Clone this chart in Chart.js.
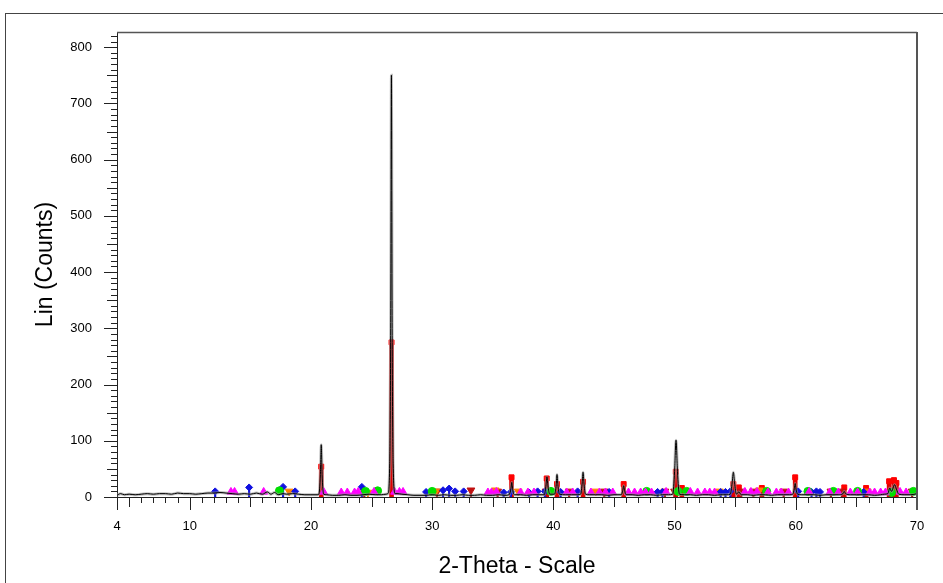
<!DOCTYPE html>
<html>
<head>
<meta charset="utf-8">
<title>XRD pattern</title>
<script src="https://cdn.jsdelivr.net/npm/chart.js@4.4.0/dist/chart.umd.min.js"></script>
<style>
  html, body { margin: 0; padding: 0; background: #fff; }
  #wrap { width: 943px; height: 583px; }
</style>
</head>
<body>
<div id="wrap"><canvas id="xrd" width="943" height="583"></canvas></div>
<script>
// measured pattern (2-theta, counts)
const patternX = [4, 4.3, 4.6, 5, 5.5, 6, 6.5, 7, 7.5, 8, 8.5, 9, 9.5, 10, 10.5, 11, 11.5, 12, 12.5, 13, 13.5, 14, 14.5, 15, 15.5, 16, 16.4, 16.7, 17, 17.3, 17.7, 18, 18.5, 19, 19.5, 20, 20.5,
  20.65, 20.78, 20.85, 20.92, 21.05, 21.3, 21.8, 22.3, 22.8, 23.3, 23.8, 24.3, 24.8, 25.3, 25.8, 26.2,
  26.35, 26.5, 26.58, 26.64, 26.7, 26.78, 26.95, 27.1, 27.5, 28, 28.5, 29, 29.5, 30, 30.5, 31, 31.5, 32, 32.5, 33, 33.5, 34, 34.5, 35, 35.5, 36,
  36.35, 36.5, 36.57, 36.65, 36.8, 37.3, 37.8, 38.3, 38.8, 39.25, 39.4, 39.47, 39.55, 39.7, 40.1, 40.24, 40.3, 40.37, 40.5, 41, 41.5, 42, 42.25, 42.38, 42.45, 42.52, 42.65,
  43, 43.5, 44, 44.5, 45, 45.6, 45.73, 45.8, 45.87, 46, 46.5, 47, 47.5, 48, 48.5, 49, 49.5, 49.85, 50, 50.12, 50.24, 50.4, 50.8, 51.3, 51.8, 52.3, 52.8, 53.3, 53.8, 54.3,
  54.6, 54.75, 54.85, 54.95, 55.1, 55.3, 55.5, 56, 56.5, 57, 57.5, 58, 58.5, 59, 59.5, 59.75, 59.88, 59.95, 60.02, 60.15, 60.5, 61, 61.5, 62, 62.5, 63, 63.5, 63.9, 64, 64.1,
  64.5, 65, 65.5, 66, 66.5, 67, 67.3, 67.6, 67.75, 67.9, 68.15, 68.3, 68.5, 69, 69.5, 70];
const patternY = [3, 6, 4, 5, 4, 5, 6, 5, 6, 6, 5, 7, 6, 6, 5, 6, 7, 7, 8, 7, 6, 5, 6, 5, 7, 5, 9, 5, 8, 4, 6, 5, 6, 5, 4, 4, 4,
  5, 40, 93, 40, 5, 4, 3, 3, 4, 3, 3, 4, 5, 4, 4, 5,
  6, 60, 300, 750, 300, 60, 6, 6, 5, 4, 3, 3, 3, 4, 3, 4, 3, 3, 4, 3, 3, 4, 3, 3, 4, 3,
  4, 15, 26, 12, 4, 4, 3, 4, 4, 4, 22, 36, 20, 5, 5, 22, 40, 22, 5, 4, 4, 4, 5, 25, 44, 25, 5,
  4, 4, 4, 3, 4, 4, 12, 20, 12, 4, 4, 3, 4, 4, 3, 4, 4, 5, 45, 101, 45, 5, 4, 4, 3, 4, 4, 3, 4, 4,
  5, 25, 44, 25, 5, 9, 4, 4, 3, 4, 4, 3, 4, 4, 4, 5, 15, 24, 14, 5, 4, 4, 4, 3, 4, 4, 4, 6, 10, 6,
  4, 4, 4, 4, 3, 4, 5, 6, 16, 10, 22, 14, 5, 4, 4, 6];

// reference phase sticks (2-theta, relative height)
const quartzPos = [20.85, 26.65, 36.55, 39.45, 40.3, 42.45, 45.8, 50.1, 50.6, 54.85, 55.3, 57.2, 59.95, 64.0, 65.8, 67.7, 68.1, 68.3];
const quartzInt = [54, 275, 35, 33, 23, 27, 23, 45, 16, 23, 17, 16, 35, 17, 16, 28, 30, 25];

const bluePos = [12.1, 14.9, 17.7, 18.7, 24.2, 29.5, 30.9, 31.4, 31.9, 32.6, 35.9, 36.5, 38.0, 38.7, 39.3, 40.6, 42.0, 44.6, 48.6, 49.0, 53.8, 54.2, 54.6, 60.2, 61.3, 61.7, 62.0, 65.6];
const blueInt = [10, 17, 18, 10, 18, 9, 12, 15, 10, 10, 8, 9, 8, 10, 10, 9, 10, 9, 9, 9, 9, 9, 10, 10, 9, 10, 9, 9];

const magentaPos = [13.4, 13.7, 16.1, 21.05, 22.5, 23.0, 23.6, 23.9, 25.2, 26.9, 27.3, 27.6, 34.6, 34.9, 35.3, 37.3, 37.9, 38.4, 41.1, 41.6, 43.1, 43.8, 44.3, 44.9, 46.2, 46.7, 47.2, 47.6, 48.1, 49.3,
  51.3, 51.9, 52.5, 52.9, 53.3, 55.8, 56.3, 56.8, 57.7, 58.4, 58.8, 59.4, 61.1, 62.8, 63.5, 64.5, 65.1, 66.1, 66.5, 67.0, 67.4, 68.6, 69.1];
const magentaInt = [9, 9, 9, 9, 8, 8, 8, 9, 9, 9, 9, 9, 8, 8, 9, 8, 8, 8, 8, 8, 8, 8, 8, 8, 8, 8, 8, 8, 8, 9,
  9, 8, 8, 8, 8, 9, 9, 9, 8, 8, 8, 8, 9, 8, 8, 8, 8, 8, 8, 8, 8, 9, 8];

const greenPos = [17.4, 24.5, 25.5, 30.0, 39.8, 47.7, 50.3, 51.0, 57.6, 61.0, 63.1, 65.1, 67.9, 69.7];
const greenInt = [11, 10, 11, 10, 10, 10, 10, 10, 10, 10, 10, 10, 8, 10];

const orangePos = [18.2, 24.7, 30.3, 35.2, 37.1, 43.5, 53.7, 57.0, 65.9];
const orangeInt = [10, 8, 10, 12, 10, 10, 10, 12, 10];

const darkRedPos = [24.4, 30.4, 33.2, 35.4, 39.4, 41.3, 44.2, 49.2, 50.0, 55.5, 56.5, 57.3, 59.0, 62.9, 63.8, 69.6];
const darkRedInt = [10, 10, 12, 10, 10, 10, 10, 10, 10, 10, 10, 10, 10, 10, 10, 10];

const xTickLabels = [4, 10, 20, 30, 40, 50, 60, 70];
const yTickLabels = [0, 100, 200, 300, 400, 500, 600, 700, 800];

function pts(xs, ys) {
  return xs.map((x, i) => ({ x: x, y: ys[i] }));
}

function sticks(xs, ys, color, width) {
  return {
    type: "bar",
    data: pts(xs, ys),
    backgroundColor: color,
    barThickness: width,
    grouped: false,
    order: 5
  };
}

function marks(xs, ys, color, style, r, rot) {
  return {
    type: "scatter",
    data: pts(xs, ys),
    pointStyle: style,
    pointRadius: r,
    pointRotation: rot || 0,
    backgroundColor: color,
    borderColor: color,
    borderWidth: 1,
    clip: false,
    order: 3
  };
}

// frame, axis ticks (drawn off the library scales)
const xrdFrame = {
  id: "xrdFrame",
  beforeDraw(chart) {
    const ctx = chart.ctx;
    ctx.save();
    ctx.fillStyle = "#fff";
    ctx.fillRect(0, 0, chart.width, chart.height);
    ctx.strokeStyle = "#444";
    ctx.lineWidth = 1;
    ctx.strokeRect(5.5, 13.5, 1000, 1000);
    ctx.restore();
  },
  afterDraw(chart) {
    const ctx = chart.ctx;
    const a = chart.chartArea;
    const xs = chart.scales.x;
    const ys = chart.scales.y;
    ctx.save();
    ctx.strokeStyle = "#222";
    ctx.lineWidth = 1;
    ctx.beginPath();
    for (let v = 4; v <= 70; v++) {
      const px = Math.round(xs.getPixelForValue(v)) + 0.5;
      const len = (v % 10 === 0 || v === 4) ? 13 : (v % 5 === 0 ? 10 : 6);
      ctx.moveTo(px, a.bottom);
      ctx.lineTo(px, a.bottom + len);
    }
    for (let v = 0; v <= 820; v += 10) {
      const py = Math.round(ys.getPixelForValue(v)) + 0.5;
      const len = v % 100 === 0 ? 13 : (v % 50 === 0 ? 10 : 6);
      ctx.moveTo(a.left, py);
      ctx.lineTo(a.left - len, py);
    }
    ctx.stroke();
    // top and right border of plot
    ctx.strokeStyle = "#555";
    ctx.lineWidth = 1.5;
    ctx.beginPath();
    ctx.moveTo(a.left, a.top + 0.5);
    ctx.lineTo(a.right, a.top + 0.5);
    ctx.stroke();
    ctx.lineWidth = 2;
    ctx.beginPath();
    ctx.moveTo(a.right, a.top);
    ctx.lineTo(a.right, a.bottom + 13);
    ctx.stroke();
    ctx.restore();
  }
};

new Chart(document.getElementById("xrd"), {
  data: {
    datasets: [
      {
        type: "line",
        data: pts(patternX, patternY),
        borderColor: "rgba(150,150,150,0.6)",
        borderWidth: 3,
        pointRadius: 0,
        cubicInterpolationMode: "monotone",
        order: 2
      },
      {
        type: "line",
        data: pts(patternX, patternY),
        borderColor: "#000",
        borderWidth: 1,
        pointRadius: 0,
        cubicInterpolationMode: "monotone",
        order: 1
      },
      sticks(bluePos, blueInt, "#1010e0", 1.5),
      sticks(darkRedPos, darkRedInt, "#b01010", 1.5),
      sticks(quartzPos, quartzInt, "#e00000", 4),
      marks(magentaPos, magentaInt, "#ff00ff", "triangle", 4.5),
      marks(greenPos, greenInt, "#00e000", "circle", 4),
      marks(bluePos, blueInt, "#1010e0", "rectRot", 3.5),
      marks(orangePos, orangeInt, "#ff8000", "triangle", 4.5, 180),
      marks(darkRedPos, darkRedInt, "#c01010", "triangle", 4.5, 180),
      marks(quartzPos, quartzInt, "#ff0000", "rect", 3.5)
    ]
  },
  options: {
    responsive: false,
    animation: false,
    events: [],
    layout: { padding: { left: 0, right: 26, top: 32, bottom: 0 } },
    plugins: { legend: { display: false }, tooltip: { enabled: false } },
    scales: {
      x: {
        type: "linear",
        min: 4,
        max: 70,
        offset: false,
        afterBuildTicks: (s) => { s.ticks = xTickLabels.map((v) => ({ value: v })); },
        afterFit: (s) => { s.height = 86; s.paddingLeft = 0; s.paddingRight = 0; },
        grid: { display: false, drawTicks: false },
        border: { display: true, color: "#222", width: 1 },
        ticks: { color: "#000", font: { family: "'Liberation Sans', Arial, sans-serif", size: 13 }, padding: 22, maxRotation: 0 },
        title: {
          display: true,
          text: "2-Theta - Scale",
          color: "#000",
          font: { family: "'Liberation Sans', Arial, sans-serif", size: 23 },
          padding: { top: 0, bottom: 3 }
        }
      },
      y: {
        type: "linear",
        min: 0,
        max: 827,
        afterBuildTicks: (s) => { s.ticks = yTickLabels.map((v) => ({ value: v })); },
        afterFit: (s) => { s.width = 117; s.paddingTop = 0; s.paddingBottom = 0; },
        grid: { display: false, drawTicks: false },
        border: { display: true, color: "#222", width: 1 },
        ticks: { color: "#000", font: { family: "'Liberation Sans', Arial, sans-serif", size: 13 }, padding: 25 },
        title: {
          display: true,
          text: "Lin (Counts)",
          color: "#000",
          font: { family: "'Liberation Sans', Arial, sans-serif", size: 23 },
          padding: { top: 32, bottom: 0 }
        }
      }
    }
  },
  plugins: [xrdFrame]
});
</script>
</body>
</html>
